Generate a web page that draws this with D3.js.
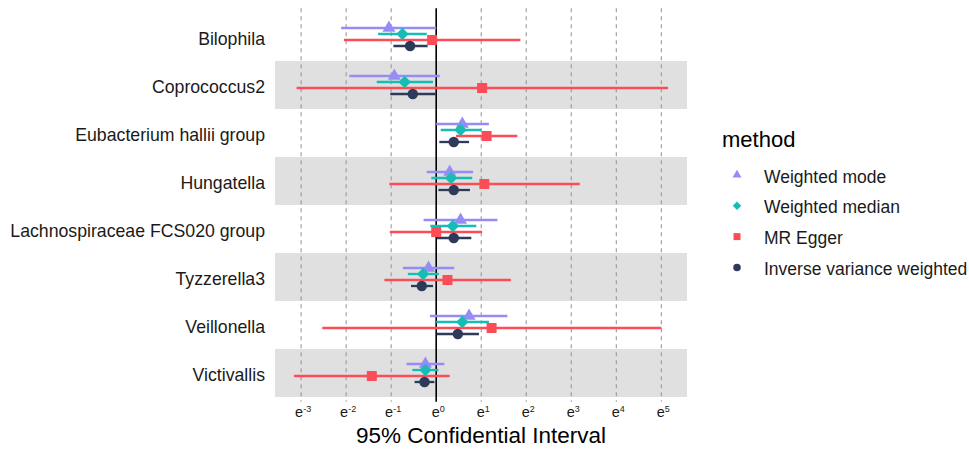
<!DOCTYPE html>
<html>
<head>
<meta charset="utf-8">
<script src="https://cdn.jsdelivr.net/npm/d3@7"></script>
<style>
  html, body { margin: 0; padding: 0; background: #fff; }
  svg { display: block; font-family: "Liberation Sans", Arial, sans-serif; }
</style>
</head>
<body>
<svg id="chart" width="969" height="457"></svg>
<script>
// ---- data (log scale, natural base) ----
const categories = ["Bilophila", "Coprococcus2", "Eubacterium hallii group", "Hungatella",
  "Lachnospiraceae FCS020 group", "Tyzzerella3", "Veillonella", "Victivallis"];
const methods = ["Weighted mode", "Weighted median", "MR Egger", "Inverse variance weighted"];

const modeEst = [-1.05, -0.93, 0.58, 0.30, 0.54, -0.17, 0.73, -0.24];
const modeLo  = [-2.11, -1.93, 0.00, -0.21, -0.28, -0.74, -0.14, -0.66];
const modeHi  = [0.00, 0.08, 1.17, 0.82, 1.36, 0.40, 1.58, 0.18];

const medianEst = [-0.75, -0.70, 0.54, 0.33, 0.37, -0.29, 0.58, -0.24];
const medianLo  = [-1.29, -1.32, 0.10, -0.11, -0.13, -0.63, 0.00, -0.53];
const medianHi  = [-0.21, -0.07, 1.00, 0.80, 0.89, 0.06, 1.17, 0.05];

const eggerEst = [-0.09, 1.02, 1.12, 1.07, 0.00, 0.25, 1.23, -1.43];
const eggerLo  = [-2.05, -3.10, 0.44, -1.04, -1.03, -1.15, -2.53, -3.16];
const eggerHi  = [1.87, 5.15, 1.80, 3.19, 1.02, 1.66, 5.00, 0.30];

const ivwEst = [-0.58, -0.52, 0.39, 0.39, 0.39, -0.32, 0.48, -0.26];
const ivwLo  = [-0.95, -1.02, 0.07, 0.05, 0.01, -0.56, 0.01, -0.48];
const ivwHi  = [-0.19, -0.01, 0.73, 0.75, 0.78, -0.07, 0.95, -0.04];

const tickExponents = ["-3", "-2", "-1", "0", "1", "2", "3", "4", "5"];
const xTitle = "95% Confidential Interval";
const legendTitle = "method";

// ---- styling ----
const colors = ["#978cf5", "#16bdb5", "#fb4d57", "#2e3a59"];
const shapes = ["triangle", "diamond", "square", "circle"];
const series = [
  { est: modeEst, lo: modeLo, hi: modeHi },
  { est: medianEst, lo: medianLo, hi: medianHi },
  { est: eggerEst, lo: eggerLo, hi: eggerHi },
  { est: ivwEst, lo: ivwLo, hi: ivwHi }
];

const svg = d3.select("#chart");
const panel = { left: 275, right: 687, top: 8.2, bottom: 401.8 };

const x = d3.scaleLinear().domain([-3.58, 5.57]).range([panel.left, panel.right]);
const yNum = d3.scaleLinear().domain([0.4, 8.6]).range([panel.bottom, panel.top]);
const yCat = c => yNum(categories.length - categories.indexOf(c));
const rowH = yNum(0) - yNum(1);
const dodge = d3.scalePoint().domain(methods).range([-0.1875, 0.1875]);

// background bands on alternate rows
svg.append("g").selectAll("rect")
  .data(categories.filter((c, i) => i % 2 === 1))
  .join("rect")
  .attr("x", panel.left).attr("width", panel.right - panel.left)
  .attr("y", c => yCat(c) - rowH / 2).attr("height", rowH)
  .attr("fill", "#e0e0e0");

// dashed grid lines at integer exponents
const ticks = tickExponents.map(Number);
svg.append("g").selectAll("line")
  .data(ticks.filter(t => t !== 0))
  .join("line")
  .attr("x1", d => x(d)).attr("x2", d => x(d))
  .attr("y1", panel.top).attr("y2", panel.bottom)
  .attr("stroke", "#9a9a9a").attr("stroke-width", 1.1)
  .attr("stroke-dasharray", "4,4");

// solid line at 0
svg.append("line")
  .attr("x1", x(0)).attr("x2", x(0))
  .attr("y1", panel.top).attr("y2", panel.bottom)
  .attr("stroke", "#000").attr("stroke-width", 1.6);

function shapePath(shape, s) {
  if (shape === "triangle") {
    const h = s * 0.866;
    return `M0,${-h * 2 / 3}L${s / 2},${h / 3}L${-s / 2},${h / 3}Z`;
  }
  if (shape === "diamond") return `M0,${-s / 2}L${s / 2},0L0,${s / 2}L${-s / 2},0Z`;
  if (shape === "square") return `M${-s / 2},${-s / 2}h${s}v${s}h${-s}Z`;
  return d3.symbol(d3.symbolCircle, Math.PI * (s / 2) * (s / 2))();
}
const markerSize = [13, 12.5, 10, 10.5];

const rows = [];
methods.forEach((m, mi) => {
  categories.forEach((c, ci) => {
    rows.push({ m, mi, c, est: series[mi].est[ci], lo: series[mi].lo[ci], hi: series[mi].hi[ci] });
  });
});
const yRow = d => yCat(d.c) + dodge(d.m) * rowH;

svg.append("g").selectAll("line")
  .data(rows)
  .join("line")
  .attr("x1", d => x(d.lo)).attr("x2", d => x(d.hi))
  .attr("y1", yRow).attr("y2", yRow)
  .attr("stroke", d => colors[d.mi]).attr("stroke-width", 2.3);

svg.append("g").selectAll("path")
  .data(rows)
  .join("path")
  .attr("transform", d => `translate(${x(d.est)},${yRow(d)})`)
  .attr("d", d => shapePath(shapes[d.mi], markerSize[d.mi]))
  .attr("fill", d => colors[d.mi]);

// y-axis labels
svg.append("g").selectAll("text")
  .data(categories)
  .join("text")
  .attr("x", 265).attr("y", c => yCat(c) + 7.5)
  .attr("text-anchor", "end")
  .attr("font-size", 17.7).attr("fill", "#1a1a1a")
  .text(c => c);

// x-axis tick labels e^k
const tl = svg.append("g").selectAll("text")
  .data(tickExponents)
  .join("text")
  .attr("x", d => x(+d) + 2).attr("y", 417)
  .attr("text-anchor", "middle").attr("fill", "#1a1a1a");
tl.append("tspan").attr("font-size", 14.5).text("e");
tl.append("tspan").attr("font-size", 9).attr("dy", -5).text(d => d);

// x title
svg.append("text")
  .attr("x", (panel.left + panel.right) / 2).attr("y", 443)
  .attr("text-anchor", "middle").attr("font-size", 22.5).attr("fill", "#000")
  .text(xTitle);

// legend
svg.append("text").attr("x", 722).attr("y", 146.5)
  .attr("font-size", 22).attr("fill", "#000").text(legendTitle);
const lg = svg.append("g").selectAll("g")
  .data(methods)
  .join("g")
  .attr("transform", (d, i) => `translate(737,${175 + i * 30.8})`);
lg.append("path")
  .attr("d", (d, i) => shapePath(shapes[i], [9, 8.5, 7, 7.5][i]))
  .attr("fill", (d, i) => colors[i]);
lg.append("text").attr("x", 27).attr("y", 7.5)
  .attr("font-size", 17.5).attr("fill", "#1a1a1a").text(d => d);
</script>
</body>
</html>
